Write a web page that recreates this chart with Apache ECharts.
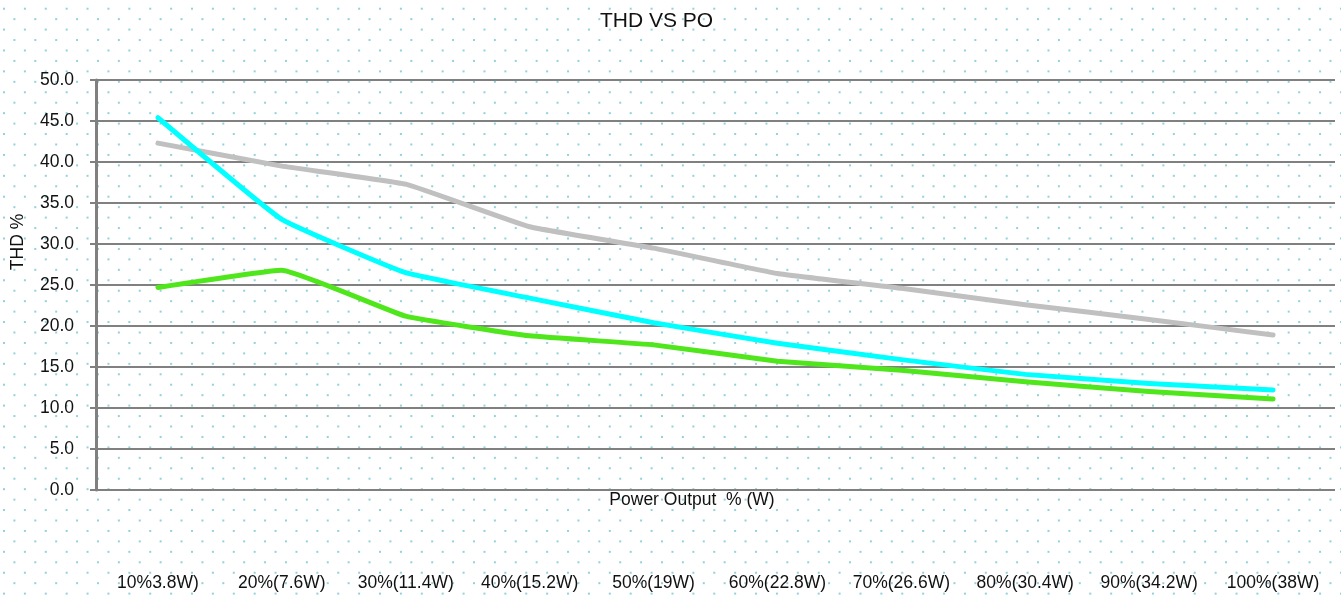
<!DOCTYPE html>
<html>
<head>
<meta charset="utf-8">
<script src="https://cdn.jsdelivr.net/npm/echarts@6/dist/echarts.min.js"></script>
<style>
html,body{margin:0;padding:0;background:#fff;}
#c{width:1341px;height:597px;}
</style>
</head>
<body>
<div id="c"></div>
<script>
var categories = ['10%3.8W)', '20%(7.6W)', '30%(11.4W)', '40%(15.2W)', '50%(19W)', '60%(22.8W)', '70%(26.6W)', '80%(30.4W)', '90%(34.2W)', '100%(38W)'];
var grayValues = [42.3, 39.5, 37.3, 32.1, 29.5, 26.4, 24.6, 22.6, 20.8, 18.9];
var cyanValues = [45.4, 33.0, 26.5, 23.4, 20.4, 17.9, 15.9, 14.1, 13.0, 12.2];
var greenValues = [24.7, 26.8, 21.2, 18.8, 17.7, 15.7, 14.6, 13.2, 12.0, 11.1];
var yMin = 0, yMax = 50, yStep = 5;

// dotted background pattern
var W = 1341, H = 597;
var bg = document.createElement('canvas');
bg.width = W; bg.height = H;
var ctx = bg.getContext('2d');
ctx.fillStyle = '#ffffff';
ctx.fillRect(0, 0, W, H);
ctx.fillStyle = '#93d2d9';
var P = 20.89;
for (var j = -1; j * P < H + P; j++) {
  for (var i = -1; i * P < W + P; i++) {
    ctx.fillRect(4 + i * P - 1, 8.7 + j * P - 1, 2, 2);
    ctx.fillRect(14.4 + i * P - 1, 19.15 + j * P - 1, 2, 2);
  }
}

var FONT = '"Liberation Sans", Arial, sans-serif';
var TXT = '#111111';
var chart = echarts.init(document.getElementById('c'), null, {renderer: 'canvas'});
function lineSeries(data, color) {
  return {
    type: 'line', data: data, symbol: 'none', smooth: 0.1,
    lineStyle: {color: color, width: 5, cap: 'round', join: 'round'},
    itemStyle: {color: color}
  };
}
chart.setOption({
  animation: false,
  backgroundColor: {image: bg, repeat: 'no-repeat'},
  title: {
    text: 'THD VS PO', left: 600, top: 11, padding: 0,
    textStyle: {fontFamily: FONT, fontSize: 21, fontWeight: 'normal', color: TXT}
  },
  grid: {left: 96, right: 6, top: 80, bottom: 107},
  xAxis: {
    type: 'category', data: categories, boundaryGap: true,
    axisLine: {show: false}, axisTick: {show: false},
    axisLabel: {margin: 84, fontFamily: FONT, fontSize: 17.5, color: TXT, interval: 0}
  },
  yAxis: {
    type: 'value', min: yMin, max: yMax, interval: yStep,
    axisLine: {show: true, lineStyle: {color: '#808080', width: 3}},
    axisTick: {show: true, length: 6, lineStyle: {color: '#808080', width: 2}},
    splitLine: {lineStyle: {color: '#808080', width: 2}},
    axisLabel: {margin: 22, fontFamily: FONT, fontSize: 17.5, color: TXT,
      formatter: function (v) { return v.toFixed(1); }}
  },
  graphic: [
    {type: 'text', x: 18, y: 242, rotation: Math.PI / 2,
     style: {text: 'THD %', font: '17.5px ' + FONT, fill: TXT, align: 'center', verticalAlign: 'middle'}},
    {type: 'text', x: 692, y: 500,
     style: {text: 'Power Output  % (W)', font: '17.5px ' + FONT, fill: TXT, align: 'center', verticalAlign: 'middle'}}
  ],
  series: [
    lineSeries(grayValues, '#c0c0c0'),
    lineSeries(cyanValues, '#00ffff'),
    lineSeries(greenValues, '#4fe61c')
  ]
});
</script>
</body>
</html>
